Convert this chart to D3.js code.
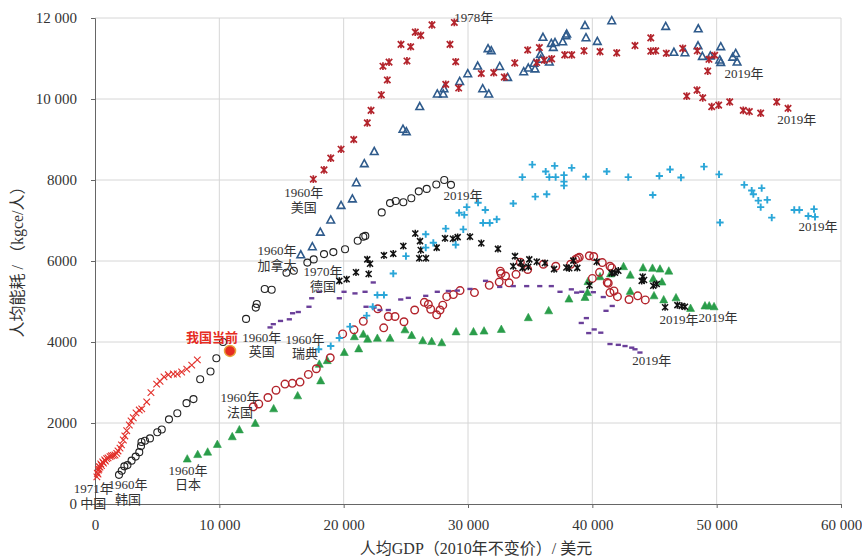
<!DOCTYPE html>
<html>
<head>
<meta charset="utf-8">
<script src="https://cdn.jsdelivr.net/npm/d3@7"></script>
<style>
  body { margin: 0; background: #fff; }
  svg text { font-family: "Liberation Serif", "Times New Roman", "Noto Sans CJK SC", serif; fill: #333; }
  .grid line { stroke: #d6d6d6; stroke-width: 1; }
  .axis path, .axis line { stroke: #666; }
</style>
</head>
<body>
<div id="chart"></div>
<script>
// per-capita GDP (2010 USD) vs per-capita energy use (kgce), one point per year
const usa = [[17560,8020],[18420,8250],[18960,8540],[19790,8760],[20810,9000],[21900,9410],[22200,9720],[23030,10100],[23510,10470],[23160,10810],[23650,10910],[24610,11350],[25090,10940],[25390,11290],[25760,11650],[26200,11570],[27100,11830],[28900,11890],[28550,11350],[29010,10920],[28210,10360],[29250,10270],[31070,10630],[32070,10650],[32920,10540],[33760,10890],[34800,11210],[35740,11270],[35530,10900],[36140,10960],[36730,10990],[37780,11090],[38340,11090],[39330,11190],[40620,11170],[41960,11140],[43430,11320],[44700,11510],[44700,11180],[45100,11190],[45950,11130],[47270,11250],[48440,11190],[49380,10980],[49840,11080],[49280,10690],[47590,10070],[48420,10220],[48880,10030],[49600,9810],[50160,9850],[51050,9930],[52140,9720],[52630,9690],[53540,9650],[54830,9930],[55740,9770]];
const canada = [[16550,6150],[17480,6350],[18120,6710],[18960,7010],[19790,7370],[20700,7530],[21020,7930],[21660,8400],[22460,8700],[24770,9250],[25040,9190],[26120,9810],[27530,10120],[28010,10120],[28070,10250],[29330,10430],[29980,10620],[30780,10810],[31180,10250],[31670,10120],[31610,11240],[31870,11190],[32550,10800],[33190,10530],[34480,10670],[34850,10760],[35390,10740],[35310,10880],[35820,11100],[35850,10980],[36030,11520],[36540,10910],[36700,11370],[37000,11390],[36860,11270],[37620,11410],[37880,11560],[37940,11600],[39410,11810],[39490,11510],[40400,11420],[41560,11930],[45900,11790],[48520,11730],[48500,11310],[48850,11050],[49490,11060],[50250,10960],[50330,11290],[50330,10900],[51290,11030],[51530,11120],[51640,10910],[46560,11150],[47450,11140]];
const sweden = [[17990,3820],[18960,3900],[19650,4100],[20510,4380],[21850,4650],[22340,4870],[22710,5160],[23240,5160],[23990,5690],[25010,6120],[26600,6660],[26600,6330],[27210,6450],[28210,6800],[29010,6400],[29620,6780],[29280,7190],[29700,7140],[29900,7330],[30810,7440],[31390,7260],[31210,6940],[31750,6940],[32310,7030],[33640,7420],[34370,8070],[35410,7590],[36330,7650],[36250,8210],[36540,8070],[37050,8070],[37720,8120],[37720,7960],[37720,7860],[35170,8380],[36970,8350],[38340,8300],[39490,8080],[41160,8210],[42890,8070],[45390,8100],[46250,8260],[47130,8060],[48980,8330],[50190,8140],[44860,7630],[50270,6950],[52220,7880],[52820,7740],[52950,7650],[53620,7800],[53350,7490],[54070,7510],[53540,7330],[54430,7070],[56240,7260],[56650,7260],[57830,7280],[57370,7110],[57910,7090]];
const korea = [[1930,720],[2150,820],[2360,930],[2610,960],[2940,1070],[3270,1170],[3560,1280],[3700,1430],[3740,1530],[4020,1560],[4420,1620],[5010,1770],[5370,1840],[5950,2090],[6620,2240],[7360,2490],[7920,2590],[8460,3080],[9290,3270],[9760,3600],[10300,4000],[12150,4570],[12930,4850],[13010,4940],[13650,5310],[14210,5290],[15400,5710],[15990,5760],[17080,5960],[17590,6040],[18420,6170],[19170,6220],[20110,6290],[21130,6500],[21580,6600],[21740,6620],[23060,7200],[23730,7430],[24190,7480],[24800,7450],[25440,7550],[26040,7720],[26680,7780],[27450,7890],[28090,8000],[28630,7880]];
const china = [[150,670],[190,760],[240,740],[270,840],[320,860],[350,920],[400,910],[460,990],[520,950],[620,1040],[680,1010],[780,1090],[840,1060],[940,1120],[1050,1140],[1210,1170],[1330,1190],[1470,1200],[1610,1210],[1750,1250],[1850,1310],[2010,1380],[2130,1460],[2280,1580],[2400,1680],[2550,1810],[2760,1950],[2900,2050],[3080,2130],[3300,2250],[3560,2320],[3760,2350],[4160,2520],[4500,2750],[4960,2960],[5230,3030],[5550,3140],[5900,3190],[6300,3210],[6620,3210],[6970,3260],[7380,3330],[7780,3430],[8230,3560]];
const japan = [[7420,1110],[8260,1220],[9060,1280],[9840,1470],[11040,1660],[11610,1830],[12890,1990],[14370,2350],[16300,2670],[18150,3040],[18040,3450],[18680,3540],[20050,3740],[21210,3830],[20860,4130],[21580,4190],[21930,4070],[22710,4090],[23730,4090],[24930,4300],[25470,4160],[26360,4030],[27080,4010],[27890,3980],[29040,4250],[30440,4250],[31290,4270],[32680,4310],[34850,4600],[36490,4770],[38120,5060],[39410,5100],[39610,5220],[39650,5490],[40620,5610],[41460,5680],[42510,5860],[43050,5650],[44080,5830],[44840,5820],[45440,5800],[46150,5750],[44900,5560],[45600,5480],[43050,5250],[44960,5140],[45740,5040],[46730,5090],[47900,4830],[49060,4890],[49400,4890],[49790,4870]];
const france = [[12730,2400],[13170,2470],[13910,2630],[14560,2810],[15280,2960],[15870,2980],[16490,3010],[17160,3200],[17800,3340],[18920,3610],[19920,4200],[20830,4300],[21580,4510],[22740,4820],[23220,4350],[23590,4630],[24130,4630],[24850,4500],[25710,4790],[26490,4980],[26810,4930],[27000,4810],[27480,4670],[27750,4790],[27970,4910],[28290,5120],[28820,5170],[29360,5270],[30520,5220],[31710,5400],[32510,5480],[32600,5750],[32660,5690],[33020,5630],[33300,5460],[33860,5670],[34210,5970],[34800,5790],[36060,5920],[37060,5870],[38260,5920],[38650,6040],[38810,6070],[38950,6090],[39760,6130],[40110,6110],[40800,5960],[40580,5720],[40000,5570],[41420,5870],[41560,5830],[41200,5470],[41280,5450],[41420,5220],[41740,5260],[42020,5120],[42950,5050],[43650,5140],[44260,5040]];
const germany = [[19650,5510],[20240,5550],[20990,5720],[22010,5680],[21900,6040],[22120,5930],[23240,6140],[23990,6180],[24800,6370],[25760,6680],[26140,6490],[26200,6270],[26080,6070],[26620,6070],[27480,6330],[28150,6560],[28790,6550],[29170,6590],[30160,6600],[31070,6440],[32410,6300],[33780,6120],[33640,5870],[34240,5960],[34380,5830],[34850,5860],[34930,6040],[35530,5980],[36190,5950],[36920,5800],[37910,5840],[38140,5820],[38470,6010],[38790,5830],[39770,5400],[40350,5980],[41560,5700],[41820,5710],[42090,5760],[44050,5610],[44160,5530],[43970,5510],[44900,5390],[45180,5430],[45850,4860],[46840,4910],[47190,4890],[47450,4870]];
const uk = [[14080,4360],[14340,4440],[14920,4520],[15630,4560],[15890,4710],[16350,4740],[17210,4870],[17430,5080],[18040,5240],[19650,5080],[20030,5240],[20910,5200],[21720,5240],[22380,5470],[21800,4870],[22440,4850],[22920,4790],[23590,4790],[24590,5050],[25200,5090],[26600,5140],[27530,5240],[28420,5260],[29140,5270],[30160,5310],[31410,5510],[32550,5360],[33640,5380],[34720,5380],[35770,5380],[36700,5380],[37400,5240],[38310,5300],[38740,5220],[39150,5240],[40080,5230],[40880,5110],[41600,4890],[41100,4770],[39520,4590],[39110,4470],[40150,4310],[40680,4230],[39710,4220],[41420,3950],[42090,3930],[42630,3900],[43170,3860],[43430,3820],[43830,3740]];
const chinaNow = [10860, 3780];

// axis ticks
const xTicks = [0, 10000, 20000, 30000, 40000, 50000, 60000];
const yTicks = [0, 2000, 4000, 6000, 8000, 10000, 12000];

// annotation labels: text lines and anchor (GDP, energy)
const labels = [
  { lines: ['1978年'], at: [28900, 11890], anchor: 'start' },
  { lines: ['2019年'], at: [52200, 10510], anchor: 'middle' },
  { lines: ['2019年'], at: [56450, 9390], anchor: 'middle' },
  { lines: ['1960年', '美国'], at: [16800, 7580], anchor: 'middle' },
  { lines: ['2019年'], at: [29600, 7510], anchor: 'middle' },
  { lines: ['2019年'], at: [58150, 6730], anchor: 'middle' },
  { lines: ['1960年', '加拿大'], at: [14630, 6140], anchor: 'middle' },
  { lines: ['1970年', '德国'], at: [18330, 5620], anchor: 'middle' },
  { lines: ['1960年', '英国'], at: [13420, 4010], anchor: 'middle' },
  { lines: ['1960年', '瑞典'], at: [16890, 3960], anchor: 'middle' },
  { lines: ['2019年'], at: [46970, 4450], anchor: 'middle' },
  { lines: ['2019年'], at: [50110, 4500], anchor: 'middle' },
  { lines: ['2019年'], at: [44780, 3430], anchor: 'middle' },
  { lines: ['1960年', '法国'], at: [11660, 2510], anchor: 'middle' },
  { lines: ['1960年', '日本'], at: [7480, 720], anchor: 'middle' },
  { lines: ['1960年', '韩国'], at: [2650, 360], anchor: 'middle' },
  { lines: ['1971年', '中国'], at: [-150, 260], anchor: 'middle' }
];

const W = 862, H = 560;
const margin = { top: 18, right: 21, bottom: 56, left: 95 };
const width = W - margin.left - margin.right;
const height = H - margin.top - margin.bottom;

const svg = d3.select('#chart').append('svg')
  .attr('width', W)
  .attr('height', H);

const x = d3.scaleLinear().domain([0, 60000]).range([0, width]);
const y = d3.scaleLinear().domain([0, 12000]).range([height, 0]);

const g = svg.append('g').attr('transform', `translate(${margin.left},${margin.top})`);

// thousands with a space, below 10 000 plain
const fmt = v => v >= 10000 ? d3.format(',')(v).replace(/,/g, ' ') : String(v);

// grid
const grid = g.append('g').attr('class', 'grid');
grid.selectAll('.gx').data(xTicks.slice(1)).enter().append('line')
  .attr('x1', d => x(d)).attr('x2', d => x(d)).attr('y1', 0).attr('y2', height);
grid.selectAll('.gy').data(yTicks.slice(1)).enter().append('line')
  .attr('x1', 0).attr('x2', width).attr('y1', d => y(d)).attr('y2', d => y(d));

// axes
g.append('g').attr('class', 'axis axis-x')
  .attr('transform', `translate(0,${height})`)
  .call(d3.axisBottom(x).tickValues(xTicks).tickFormat(fmt).tickSize(4).tickPadding(11));
g.append('g').attr('class', 'axis axis-y')
  .call(d3.axisLeft(y).tickValues(yTicks).tickFormat(fmt).tickSize(4).tickPadding(14));
g.selectAll('.axis text').style('font-size', '15px').style('fill', '#333')
  .style('font-family', '"Liberation Serif", serif');
g.selectAll('.axis .domain').attr('stroke', '#777');

// marker shapes
const shapes = {
  cross: s => `M${-s},${-s}L${s},${s}M${-s},${s}L${s},${-s}`,
  plus: s => `M${-s},0H${s}M0,${-s}V${s}`,
  star: s => `M${-s},${-s}L${s},${s}M${-s},${s}L${s},${-s}M0,${-s * 1.2}V${s * 1.2}`,
  dash: s => `M${-s},0H${s}`,
  tri: s => `M0,${-s * 1.1}L${s},${s * 0.75}L${-s},${s * 0.75}Z`
};

function drawSeries(data, cls, opts) {
  const sel = g.append('g').attr('class', cls).selectAll('.pt').data(data).enter();
  if (opts.shape === 'circle') {
    sel.append('circle').attr('class', 'pt')
      .attr('cx', d => x(d[0])).attr('cy', d => y(d[1]))
      .attr('r', opts.size)
      .attr('fill', opts.fill || 'none')
      .attr('stroke', opts.stroke).attr('stroke-width', opts.sw);
  } else {
    sel.append('path').attr('class', 'pt')
      .attr('transform', d => `translate(${x(d[0])},${y(d[1])})`)
      .attr('d', shapes[opts.shape](opts.size))
      .attr('fill', opts.fill || 'none')
      .attr('stroke', opts.stroke).attr('stroke-width', opts.sw);
  }
}

drawSeries(japan, 'japan', { shape: 'tri', size: 4, fill: '#2a9d4a', stroke: '#2a9d4a', sw: 0.6 });
drawSeries(france, 'france', { shape: 'circle', size: 3.8, stroke: '#b3242c', sw: 1.4 });
drawSeries(uk, 'uk', { shape: 'dash', size: 2.6, stroke: '#6a3f99', sw: 2.4 });
drawSeries(germany, 'germany', { shape: 'star', size: 3, stroke: '#111', sw: 1.5 });
drawSeries(sweden, 'sweden', { shape: 'plus', size: 3.6, stroke: '#2aa6d8', sw: 1.9 });
drawSeries(korea, 'korea', { shape: 'circle', size: 3.5, stroke: '#222', sw: 1.1 });
drawSeries(canada, 'canada', { shape: 'tri', size: 3.8, stroke: '#2f5b8c', sw: 1.6 });
drawSeries(usa, 'usa', { shape: 'star', size: 3.2, stroke: '#b3242c', sw: 1.7 });
drawSeries(china, 'china', { shape: 'cross', size: 3.3, stroke: '#e2302b', sw: 1.1 });

// current China
g.append('circle')
  .attr('cx', x(chinaNow[0])).attr('cy', y(chinaNow[1]))
  .attr('r', 5.5)
  .attr('fill', '#e52b22').attr('stroke', '#e8a23c').attr('stroke-width', 1.5);
g.append('text')
  .attr('x', x(chinaNow[0]) - 18).attr('y', y(chinaNow[1]) - 9)
  .attr('text-anchor', 'middle')
  .style('font-family', '"Noto Sans CJK SC", sans-serif')
  .style('font-weight', 'bold').style('font-size', '13px')
  .style('fill', '#e52b22')
  .text('我国当前');

// annotations
labels.forEach(l => {
  const t = g.append('text')
    .attr('x', x(l.at[0])).attr('y', y(l.at[1]))
    .attr('text-anchor', l.anchor)
    .style('font-size', '13px').style('fill', '#333');
  l.lines.forEach((line, i) => {
    t.append('tspan').attr('x', x(l.at[0])).attr('dy', i === 0 ? 0 : 14.5).text(line);
  });
});

// axis titles
svg.append('text')
  .attr('x', 476).attr('y', 554)
  .attr('text-anchor', 'middle')
  .style('font-size', '16px')
  .text('人均GDP（2010年不变价）/ 美元');
svg.append('text')
  .attr('transform', 'translate(23,258) rotate(-90)')
  .attr('text-anchor', 'middle')
  .style('font-size', '16px')
  .text('人均能耗 / （kgce/人）');
</script>
</body>
</html>
